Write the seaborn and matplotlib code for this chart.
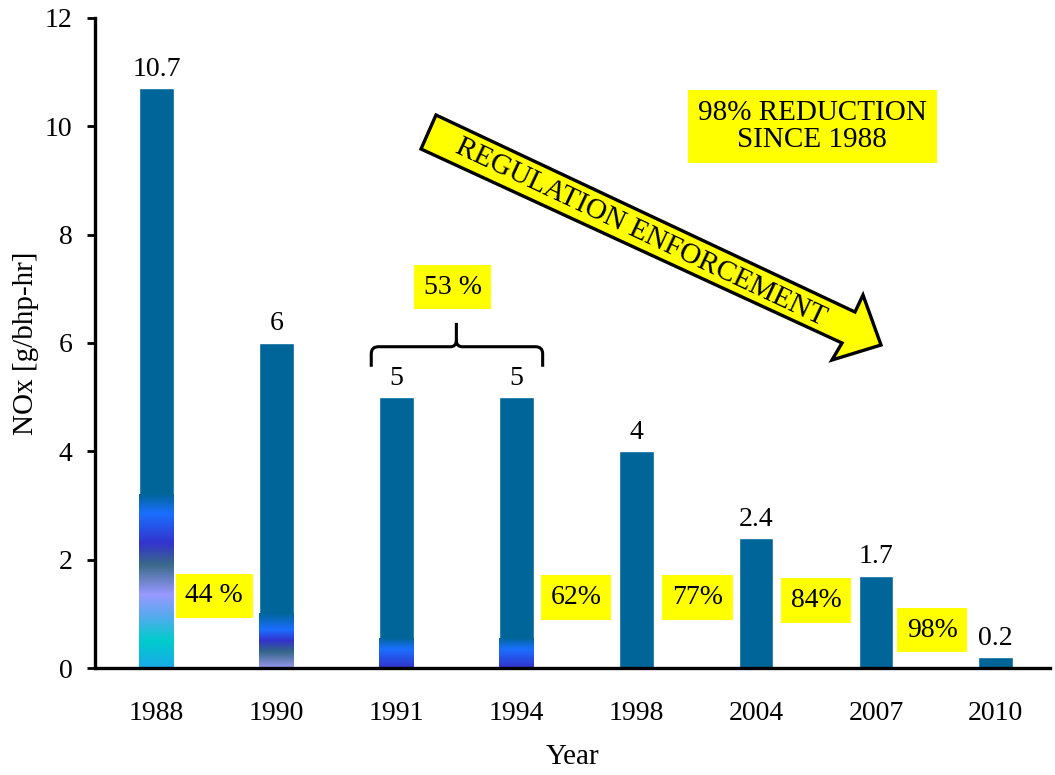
import numpy as np
import pandas as pd
import matplotlib
matplotlib.use("Agg")
import matplotlib.pyplot as plt
import seaborn as sns
from matplotlib.path import Path
from matplotlib.patches import PathPatch, Polygon
from matplotlib.colors import to_rgba

# ---------------- data ----------------
years = ["1988", "1990", "1991", "1994", "1998", "2004", "2007", "2010"]
nox = [10.7, 6, 5, 5, 4, 2.4, 1.7, 0.2]
value_labels = ["10.7", "6", "5", "5", "4", "2.4", "1.7", "0.2"]
reduction_labels = ["44 %", "62%", "77%", "84%", "98%"]
reduction_x = [0.48, 3.5, 4.51, 5.5, 6.47]
reduction_y = [1.33, 1.30, 1.30, 1.25, 0.70]

# gradient artefacts at the bottom of some bars: (bar index, [(y, colour), ...])
gradients = {
    0: [(0.0, "#1aaae8"), (0.5, "#00cccc"), (0.95, "#55aaee"), (1.35, "#9999ff"),
        (1.9, "#3a6a8a"), (2.3, "#3333cc"), (2.85, "#1a6fff"), (3.2, "#00669a")],
    1: [(0.0, "#9999ee"), (0.3, "#336688"), (0.5, "#3333cc"), (0.7, "#1a6fff"),
        (1.0, "#00669a")],
    2: [(0.0, "#3333cc"), (0.35, "#1a6fff"), (0.55, "#00669a")],
    3: [(0.0, "#3333cc"), (0.35, "#1a6fff"), (0.55, "#00669a")],
}

BAR = "#00669a"
YEL = "#ffff00"

df = pd.DataFrame({"Year": years, "NOx": nox})

sns.set_theme(style="white")
plt.rcParams["font.family"] = ["Liberation Serif", "DejaVu Serif"]
plt.rcParams["text.color"] = "black"
plt.rcParams["axes.labelcolor"] = "black"
plt.rcParams["xtick.color"] = "black"
plt.rcParams["ytick.color"] = "black"

fig = plt.figure(figsize=(10.55, 7.75), dpi=100)
ax = fig.add_axes([0.090, 0.138, 0.905, 0.839])

sns.barplot(data=df, x="Year", y="NOx", color=BAR, saturation=1, width=0.29, ax=ax)

# gradient overlays clipped to bars
for idx, stops in gradients.items():
    patch = ax.patches[idx]
    x0 = patch.get_x()
    x1 = x0 + patch.get_width()
    ys = np.array([s[0] for s in stops])
    cols = np.array([to_rgba(s[1]) for s in stops])
    grid = np.linspace(0, ys[-1], 300)
    img = np.stack([np.interp(grid, ys, cols[:, c]) for c in range(4)], axis=-1)[:, None, :]
    im = ax.imshow(img, extent=[x0, x1, 0, ys[-1]], origin="lower", aspect="auto",
                   interpolation="bilinear", zorder=patch.get_zorder() + 0.1)
    im.set_clip_path(patch)

ax.set_xlim(-0.515, 7.45)
ax.set_ylim(0, 12)
ax.set_yticks(np.arange(0, 13, 2))

# value labels
for i, (v, lab) in enumerate(zip(nox, value_labels)):
    ax.text(i, v + 0.12, lab, ha="center", va="bottom", fontsize=20)

# yellow reduction boxes
for lab, x, y in zip(reduction_labels, reduction_x, reduction_y):
    ax.text(x, y, lab, ha="center", va="center", fontsize=20,
            bbox=dict(boxstyle="square,pad=0.35", facecolor=YEL, edgecolor="none"))

ax.text(2.47, 7.03, "53 %", ha="center", va="center", fontsize=20,
        bbox=dict(boxstyle="square,pad=0.35", facecolor=YEL, edgecolor="none"))
ax.text(5.47, 9.99, "98% REDUCTION\nSINCE 1988", ha="center", va="center",
        fontsize=21, linespacing=1.05,
        bbox=dict(boxstyle="square,pad=0.35", facecolor=YEL, edgecolor="none"))

# curly brace over 1991-1994
xl, xm, xr = 1.79, 2.5, 3.22
yh, ye, yt = 5.93, 5.56, 6.37
verts = [(xl, ye), (xl, 5.80), (xl, yh), (xl + 0.06, yh), (xm - 0.05, yh),
         (xm, yh), (xm, 6.05), (xm, yt),
         (xm, 6.05), (xm, yh), (xm + 0.05, yh), (xr - 0.06, yh), (xr, yh), (xr, 5.80),
         (xr, ye)]
codes = [Path.MOVETO, Path.LINETO, Path.CURVE3, Path.CURVE3, Path.LINETO,
         Path.CURVE3, Path.CURVE3, Path.LINETO,
         Path.MOVETO, Path.CURVE3, Path.CURVE3, Path.LINETO, Path.CURVE3, Path.CURVE3,
         Path.LINETO]
ax.add_patch(PathPatch(Path(verts, codes), facecolor="none", edgecolor="black", lw=2.2))

# big regulation arrow (figure pixel coordinates -> figure fraction)
W, H = 1055, 775
arrow_px = [(436, 115), (855, 312), (863, 295), (881, 345), (832, 360), (842, 343), (421, 149)]
arrow_ff = [(x / W, 1 - y / H) for x, y in arrow_px]
fig.patches.append(Polygon(arrow_ff, closed=True, transform=fig.transFigure,
                           facecolor=YEL, edgecolor="black", lw=2.4, joinstyle="miter",
                           zorder=5))
fig.text(641 / W, 1 - 233 / H, "REGULATION ENFORCEMENT", rotation=-25.3,
         rotation_mode="anchor", ha="center", va="center", fontsize=21, zorder=6)

# axes styling
for s in ["top", "right"]:
    ax.spines[s].set_visible(False)
for s in ["left", "bottom"]:
    ax.spines[s].set_linewidth(2.4)
    ax.spines[s].set_color("black")
ax.tick_params(axis="y", direction="out", length=6, width=2, labelsize=20, pad=10,
               left=True)
ax.tick_params(axis="x", length=0, labelsize=20, pad=24)
ax.set_xlabel("Year", fontsize=21, labelpad=13)
ax.set_ylabel("NOx [g/bhp-hr]", fontsize=21, labelpad=4)

fig.savefig("out.png", dpi=100)
